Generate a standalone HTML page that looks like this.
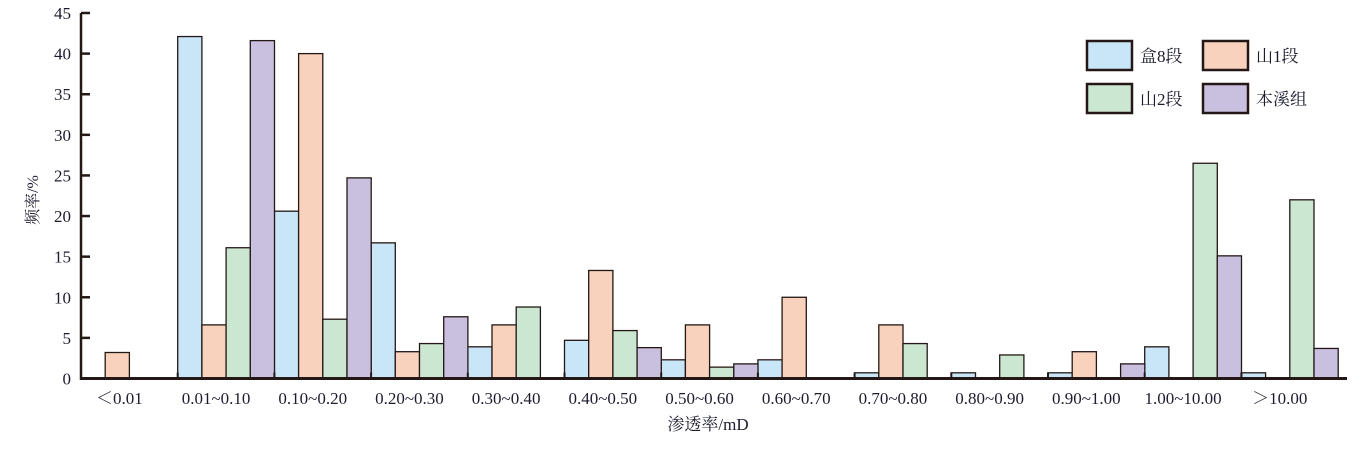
<!DOCTYPE html>
<html><head><meta charset="utf-8"><style>
body{margin:0;background:#fff;}
svg text{font-family:"Liberation Serif","Noto Serif CJK SC",serif;fill:#1c1c2e;}
</style></head><body>
<svg id="chart" width="1359" height="444" xmlns="http://www.w3.org/2000/svg">
<g id="bars"></g>
<g id="axes"></g>
<g id="legend"></g>
</svg>
<script>
const categories=["＜0.01","0.01~0.10","0.10~0.20","0.20~0.30","0.30~0.40","0.40~0.50","0.50~0.60","0.60~0.70","0.70~0.80","0.80~0.90","0.90~1.00","1.00~10.00","＞10.00"];
const seriesNames=["盒8段","山1段","山2段","本溪组"];
const he8=[0,42.1,20.6,16.7,3.9,4.7,2.3,2.3,0.7,0.7,0.7,3.9,0.7];
const shan1=[3.2,6.6,40,3.3,6.6,13.3,6.6,10,6.6,0,3.3,0,0];
const shan2=[0,16.1,7.3,4.3,8.8,5.9,1.4,0,4.3,2.9,0,26.5,22];
const benxi=[0,41.6,24.7,7.6,0,3.8,1.8,0,0,0,1.8,15.1,3.7];
const yTicks=[0,5,10,15,20,25,30,35,40,45];
const colors=["#c9e6f8","#f9d2bd","#cbe6d1","#c9c0e0"];
const series=[he8,shan1,shan2,benxi];
const NS="http://www.w3.org/2000/svg";
const x0=81,groupW=96.7,barW=24.2,yBase=378.5,yTop=13,yMax=45;
const yS=v=>yBase-(v/yMax)*(yBase-yTop);
const xG=i=>x0+i*groupW;
function mk(tag,attrs,parent){const e=document.createElementNS(NS,tag);for(const k in attrs)e.setAttribute(k,attrs[k]);parent.appendChild(e);return e;}
const gb=document.getElementById('bars'),ga=document.getElementById('axes'),gl=document.getElementById('legend');
series.forEach((s,j)=>{s.forEach((v,i)=>{if(v<=0)return;
 const r=mk('rect',{x:xG(i)+j*barW,y:yS(v),width:barW,height:yBase-yS(v),fill:colors[j],stroke:"#231815","stroke-width":1.3},gb);
 
 
});});
// axes
const ya=mk('line',{x1:x0,y1:yTop,x2:x0,y2:yBase+1.5,stroke:"#231815","stroke-width":2.5},ga);


const xa=mk('line',{x1:x0-1,y1:yBase,x2:1347,y2:yBase,stroke:"#231815","stroke-width":3},ga);


yTicks.forEach(t=>{
 mk('line',{x1:x0,y1:yS(t),x2:x0+9,y2:yS(t),stroke:"#231815","stroke-width":2.5},ga);
 const tx=mk('text',{x:x0-10,y:yS(t)+6,"text-anchor":"end","font-size":17},ga);tx.textContent=t;
 
 
});
categories.forEach((c,i)=>{
 if(i>0)mk('line',{x1:xG(i),y1:yBase,x2:xG(i),y2:yBase-6,stroke:"#231815","stroke-width":2},ga);
 const tx=mk('text',{x:xG(i)+groupW/2-10,y:404,"text-anchor":"middle","font-size":17},ga);tx.textContent=c;
 
 
});
const xt=mk('text',{x:708,y:430,"text-anchor":"middle","font-size":17},ga);xt.textContent="渗透率/mD";


const yt=mk('text',{x:38,y:200,"text-anchor":"middle","font-size":16,transform:"rotate(-90 38 200)"},ga);yt.textContent="频率/%";


const lp=[[1087,41],[1203,41],[1087,84],[1203,84]];
seriesNames.forEach((n,j)=>{
 const r=mk('rect',{x:lp[j][0],y:lp[j][1],width:45,height:29,fill:colors[j],stroke:"#231815","stroke-width":2.5},gl);
 
 
 const t=mk('text',{x:lp[j][0]+53,y:lp[j][1]+21,"font-size":17},gl);t.textContent=n;
 
 
});
</script>
</body></html>
